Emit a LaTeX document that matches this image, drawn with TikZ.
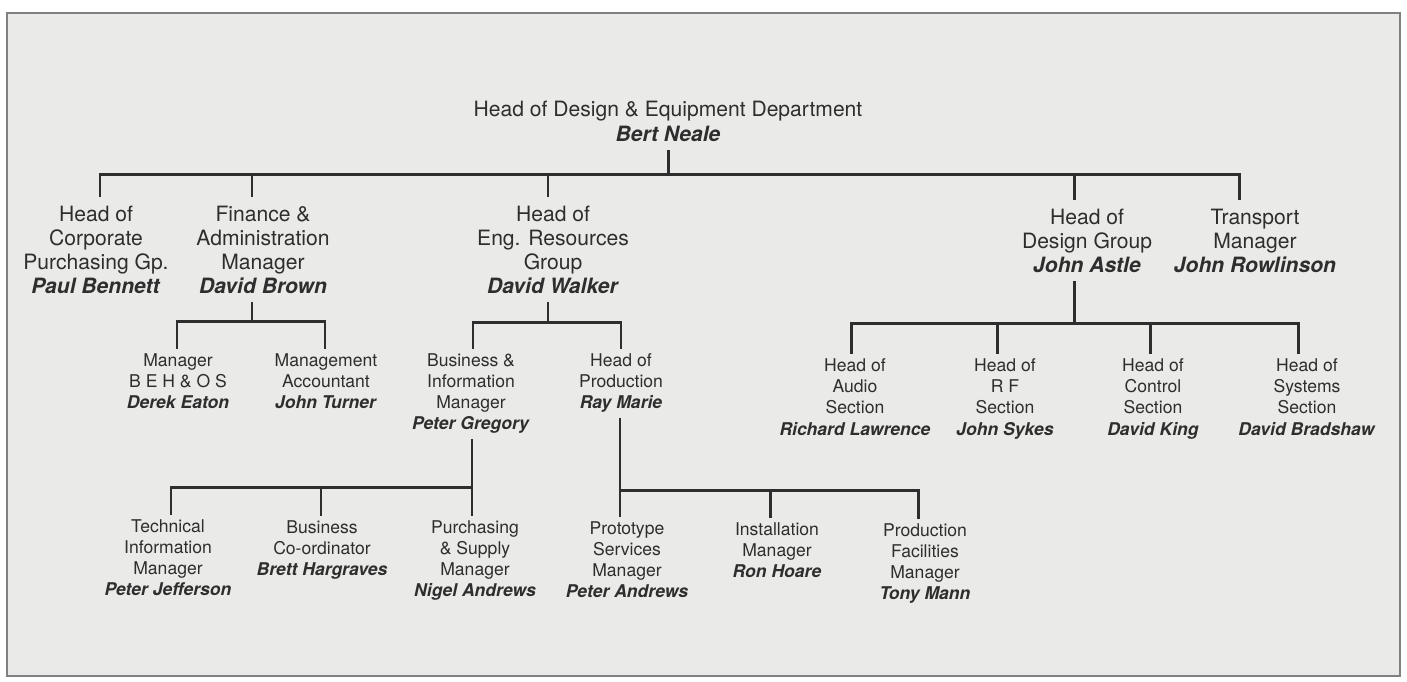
\documentclass[tikz,border=0pt]{standalone}
\usepackage{fontspec}
\setmainfont{TeX Gyre Heros}
\usepackage{tikz}
\usepackage{xcolor}
\definecolor{paper}{HTML}{EAEAE8}
\definecolor{ink}{HTML}{2E2E2E}
\definecolor{rim}{HTML}{808080}
\newcommand{\who}[1]{\textbf{\textit{#1}}}
\tikzset{post/.style={align=center,text=ink,inner xsep=1pt},
 big/.style={post,font=\fontsize{12}{13.7}\selectfont,inner ysep=4.8pt},
 small/.style={post,font=\fontsize{10}{12}\selectfont,inner ysep=2.6pt},
 line/.style={draw=ink,line width=1.7pt},
 }

\begin{document}
\begin{tikzpicture}[x=0.02cm,y=-0.02cm]
        \useasboundingbox (0,0) rectangle (1407,681);
        \draw[rim,fill=paper,line width=1.2pt] (7,13) rectangle (1400,676);

        % department head and first level
        \node[big,anchor=south] (bert) at (668,150) {Head of Design \& Equipment Department\\ \who{Bert Neale}};
        \node[big,anchor=north] (pb) at (96,197) {Head of\\Corporate\\Purchasing Gp.\\ \who{Paul Bennett}};
        \node[big,anchor=north] (db) at (263,197) {Finance \&\\Administration\\Manager\\ \who{David Brown}};
        \node[big,anchor=north] (dw) at (553,197) {Head of\\Eng. Resources\\Group\\ \who{David Walker}};
        \node[big,anchor=north] (ja) at (1087,200) {Head of\\Design Group\\ \who{John Astle}};
        \node[big,anchor=north] (jr) at (1255,200) {Transport\\Manager\\ \who{John Rowlinson}};
        \coordinate (u-pb) at (100,174);
        \coordinate (u-db) at (252,174);
        \coordinate (u-dw) at (548,174);
        \coordinate (u-ja) at (1074,174);
        \coordinate (u-jr) at (1239,174);
        \draw[line] (bert.south) -- (bert.south |- u-pb);
        \draw[line] (u-pb |- pb.north) -- (u-pb) -- (u-jr) -- (u-jr |- jr.north);
        \foreach \n in {db,dw,ja}
            \draw[line] (u-\n) -- (u-\n |- \n.north);

        % under finance
        \node[small,anchor=north] (de) at (178,349) {Manager\\B E H \& O S\\ \who{Derek Eaton}};
        \node[small,anchor=north] (jt) at (326,349) {Management\\Accountant\\ \who{John Turner}};
        \coordinate (v-de) at (177,321);
        \coordinate (v-jt) at (325,321);
        \draw[line] (db.south -| u-db) -- (u-db |- v-de);
        \draw[line] (v-de |- de.north) -- (v-de) -- (v-jt) -- (v-jt |- jt.north);

        % under eng. resources
        \node[small,anchor=north] (pg) at (471,349) {Business \&\\Information\\Manager\\ \who{Peter Gregory}};
        \node[small,anchor=north] (rm) at (621,349) {Head of\\Production\\ \who{Ray Marie}};
        \coordinate (v-pg) at (473,322);
        \coordinate (v-rm) at (621,322);
        \draw[line] (dw.south -| u-dw) -- (u-dw |- v-pg);
        \draw[line] (v-pg |- pg.north) -- (v-pg) -- (v-rm) -- (v-rm |- rm.north);

        % under design group
        \node[small,anchor=north] (rl) at (855,354) {Head of\\Audio\\Section\\ \who{Richard Lawrence}};
        \node[small,anchor=north] (js) at (1005,354) {Head of\\R F\\Section\\ \who{John Sykes}};
        \node[small,anchor=north] (dk) at (1153,354) {Head of\\Control\\Section\\ \who{David King}};
        \node[small,anchor=north] (bs) at (1307,354) {Head of\\Systems\\Section\\ \who{David Bradshaw}};
        \coordinate (v-rl) at (851,323);
        \coordinate (v-js) at (997,323);
        \coordinate (v-dk) at (1150,323);
        \coordinate (v-bs) at (1298,323);
        \draw[line] (ja.south -| u-ja) -- (u-ja |- v-rl);
        \draw[line] (v-rl |- rl.north) -- (v-rl) -- (v-bs) -- (v-bs |- bs.north);
        \foreach \n in {js,dk}
            \draw[line] (v-\n) -- (v-\n |- \n.north);

        % under business & information
        \node[small,anchor=north] (pj) at (168,515) {Technical\\Information\\Manager\\ \who{Peter Jefferson}};
        \node[small,anchor=north] (bh) at (322,516) {Business\\Co-ordinator\\ \who{Brett Hargraves}};
        \node[small,anchor=north] (na) at (475,516) {Purchasing\\\& Supply\\Manager\\ \who{Nigel Andrews}};
        \coordinate (w-pj) at (171,487);
        \coordinate (w-bh) at (321,487);
        \coordinate (w-na) at (472,487);
        \draw[line] (pg.south -| w-na) -- (w-na |- na.north);
        \draw[line] (w-pj |- pj.north) -- (w-pj) -- (w-na);
        \draw[line] (w-bh) -- (w-bh |- bh.north);

        % under production
        \node[small,anchor=north] (pa) at (627,517) {Prototype\\Services\\Manager\\ \who{Peter Andrews}};
        \node[small,anchor=north] (rh) at (777,518) {Installation\\Manager\\ \who{Ron Hoare}};
        \node[small,anchor=north] (tm) at (925,519) {Production\\Facilities\\Manager\\ \who{Tony Mann}};
        \coordinate (w-pa) at (620,490);
        \coordinate (w-rh) at (770,490);
        \coordinate (w-tm) at (918,490);
        \draw[line] (rm.south -| w-pa) -- (w-pa |- pa.north);
        \draw[line] (w-pa) -- (w-tm) -- (w-tm |- tm.north);
        \draw[line] (w-rh) -- (w-rh |- rh.north);
    \end{tikzpicture}
\end{document}
